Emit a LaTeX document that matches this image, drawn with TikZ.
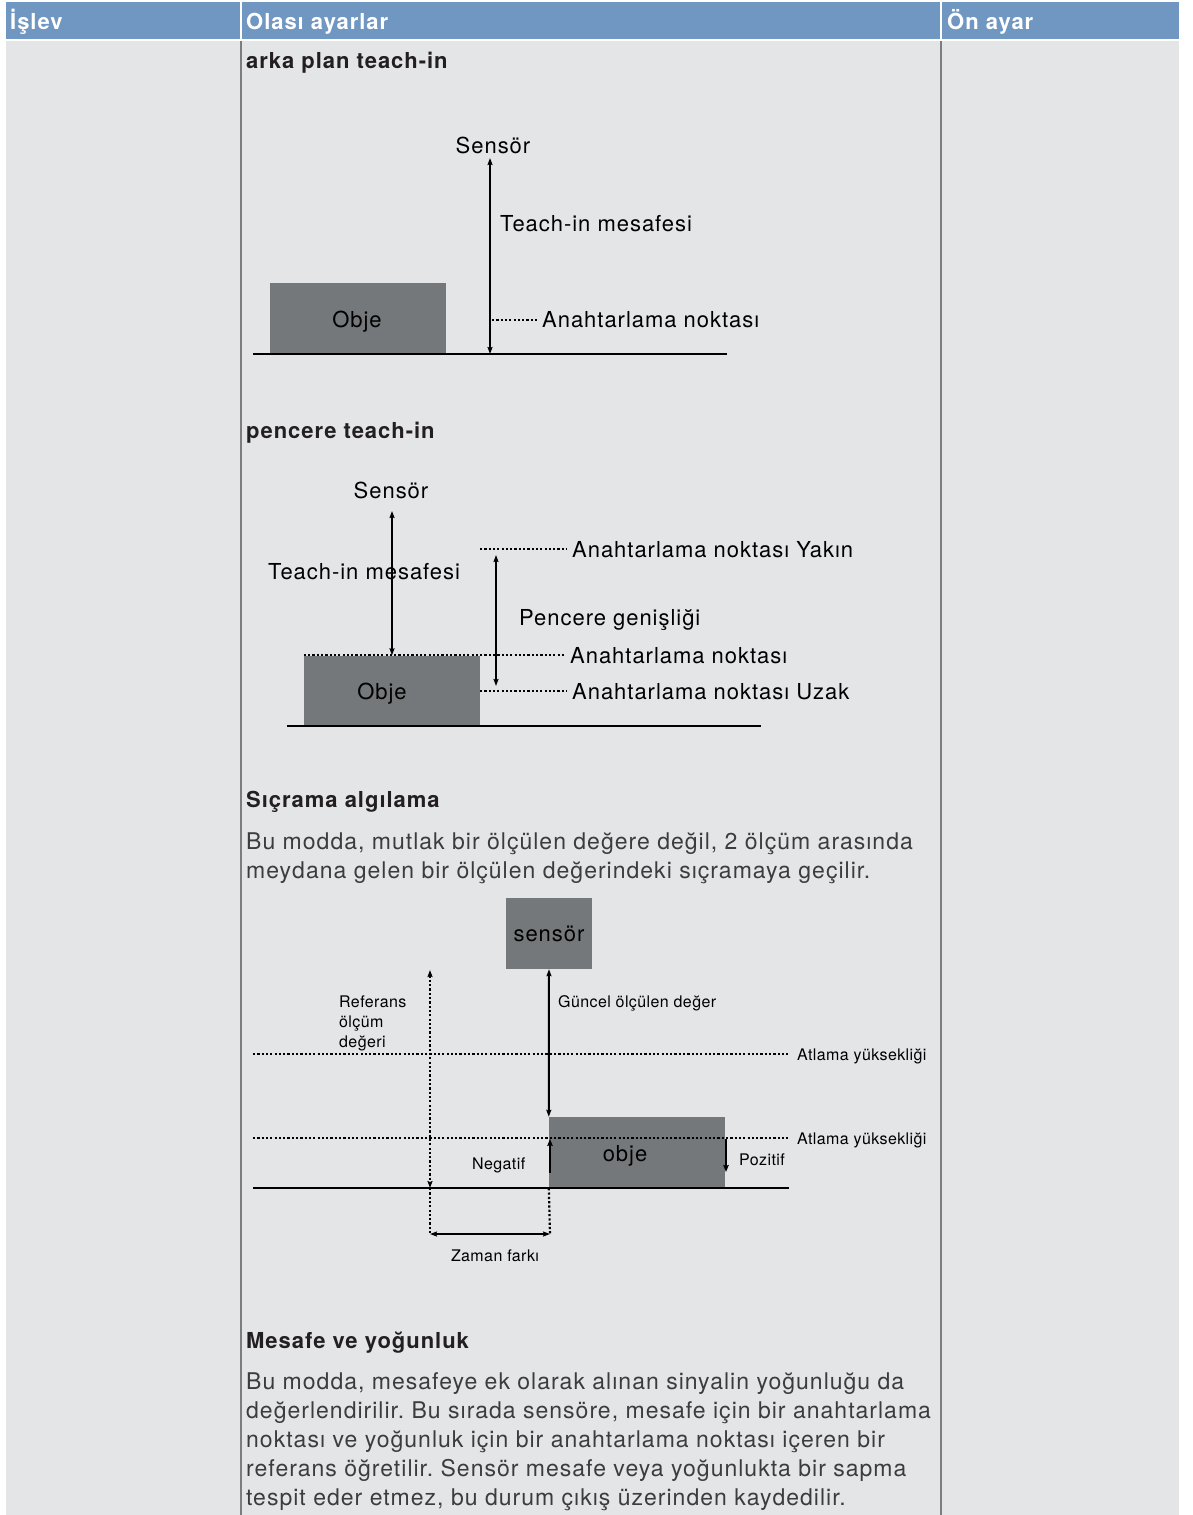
\documentclass[tikz,border=0pt]{standalone}
\usepackage{fontspec}
\setmainfont{TeX Gyre Heros}[LetterSpace=4.4]
\newfontfamily\smallface{TeX Gyre Heros}[LetterSpace=2.5]
\usetikzlibrary{arrows.meta}
\frenchspacing
\definecolor{hdrblue}{RGB}{112,150,194}
\definecolor{bodygray}{RGB}{228,229,231}
\definecolor{objgray}{RGB}{117,120,123}
\definecolor{rulegray}{RGB}{125,125,128}
\definecolor{inkdark}{RGB}{35,31,32}
\definecolor{inkbody}{RGB}{60,60,62}
\tikzset{
  hdrtext/.style={anchor=base west, inner sep=0pt, text=white, font=\fontsize{22}{26}\selectfont\bfseries},
  sectitle/.style={anchor=base west, inner sep=0pt, text=inkdark, font=\fontsize{22}{26}\selectfont\bfseries},
  bodytext/.style={anchor=base west, inner sep=0pt, align=left, text=inkbody, font=\fontsize{23}{29}\selectfont},
  lbl/.style={anchor=base west, inner sep=0pt, font=\fontsize{22}{26}\selectfont},
  smlbl/.style={anchor=base west, inner sep=0pt, align=left, font=\smallface\fontsize{16}{20}\selectfont},
  objbox/.style={fill=objgray, inner sep=0pt, minimum width=176pt, minimum height=71pt},
  ground/.style={line width=2.2pt},
  dimarrow/.style={line width=2pt, {Stealth[length=7pt,width=5pt,inset=1pt]}-{Stealth[length=7pt,width=5pt,inset=1pt]}},
  jumparrow/.style={line width=2.4pt, -{Stealth[length=7pt,width=5.5pt,inset=1pt]}},
  dotline/.style={line width=2.2pt, dash pattern=on 2.2pt off 2.1pt}
}
\begin{document}
\begin{tikzpicture}[x=1pt,y=-1pt]
\useasboundingbox (0,0) rectangle (1192,1515);
% table
\fill[white] (0,0) rectangle (1192,1515);
\fill[hdrblue] (6,2) rectangle (1179,39);
\fill[bodygray] (6,40.5) rectangle (1179,1515);
\draw[white,line width=2pt] (241,2)--(241,39) (941,2)--(941,39);
\draw[rulegray,line width=1.5pt] (241,40.5)--(241,1515) (941,40.5)--(941,1515);
\node[hdrtext] (hIslev) at (10,29) {İşlev};
\node[hdrtext] (hAyar) at (246,29) {Olası ayarlar};
\node[hdrtext] (hOn) at (947,29) {Ön ayar};

% arka plan teach-in
\node[sectitle] (t1) at (246,68) {arka plan teach-in};
\node[objbox] (obj1) at (358,318.5) {};
\node[lbl,anchor=base] (obj1txt) at (357,327) {Obje};
\coordinate (g1L) at (253,354);
\coordinate (g1R) at (727,354);
\draw[ground] (g1L) -- (g1R);
\node[lbl,anchor=base] (sens1) at (493,153) {Sensör};
\coordinate (s1top) at (490,158);
\coordinate (s1bot) at (490,354);
\draw[dimarrow] (s1top) -- (s1bot);
\node[lbl] (dist1) at (500,231) {Teach-in mesafesi};
\node[lbl] (sp1) at (542,327) {Anahtarlama noktası};
\coordinate (sp1L) at (492,320);
\draw[dotline,shorten >=4pt] (sp1L) -- (sp1L -| sp1.west);

% pencere teach-in
\node[sectitle] (t2) at (246,438) {pencere teach-in};
\node[objbox] (obj2) at (392,691) {};
\node[lbl,anchor=base] (obj2txt) at (382,699) {Obje};
\coordinate (g2L) at (287,726);
\coordinate (g2R) at (761,726);
\draw[ground] (g2L) -- (g2R);
\node[lbl,anchor=base] (sens2) at (391,498) {Sensör};
\node[lbl] (dist2) at (268,579) {Teach-in mesafesi};
\coordinate (s2top) at (392,511);
\draw[dimarrow] (s2top) -- (obj2.north);
\node[lbl] (spNear) at (572,557) {Anahtarlama noktası Yakın};
\node[lbl] (spMid) at (570,663) {Anahtarlama noktası};
\node[lbl] (spFar) at (572,699) {Anahtarlama noktası Uzak};
\node[lbl] (win) at (519,625) {Pencere genişliği};
\coordinate (nearL) at (480,549);
\coordinate (farL) at (480,691);
\draw[dotline,shorten >=5pt] (obj2.north west) -- (obj2.north west -| spMid.west);
\draw[dotline,shorten >=5pt] (nearL) -- (nearL -| spNear.west);
\draw[dotline,shorten >=5pt] (farL) -- (farL -| spFar.west);
\coordinate (winT) at (496,555);
\coordinate (winB) at (496,686);
\draw[dimarrow] (winT) -- (winB);

% Sicrama algilama
\node[sectitle] (t3) at (246,807) {Sıçrama algılama};
\node[bodytext] (p3) at (246,878) {Bu modda, mutlak bir ölçülen değere değil, 2 ölçüm arasında\\meydana gelen bir ölçülen değerindeki sıçramaya geçilir.};
\node[objbox,minimum width=86pt,font=\fontsize{22}{26}\selectfont] (sensC) at (549,933.5) {sensör};
\node[objbox] (objC) at (637,1152.5) {};
\node[lbl,anchor=base] (objCtxt) at (625,1161) {obje};
\coordinate (g3L) at (253,1188);
\coordinate (g3R) at (789,1188);
\draw[ground] (g3L) -- (g3R);
\node[smlbl] (jump1) at (797,1060) {Atlama yüksekliği};
\node[smlbl] (jump2) at (797,1144) {Atlama yüksekliği};
\coordinate (j1L) at (253,1054);
\coordinate (j2L) at (253,1138);
\draw[dotline,shorten >=7pt] (j1L) -- (j1L -| jump1.west);
\draw[dotline,shorten >=7pt] (j2L) -- (j2L -| jump2.west);
\draw[dimarrow] (sensC.south) -- (objC.north west);
\node[smlbl] (curTxt) at (558,1007) {Güncel ölçülen değer};
\node[smlbl] (refTxt) at (339,1047) {Referans\\ölçüm\\değeri};
\coordinate (refTop) at (430,970);
\coordinate (refBot) at (430,1188);
\coordinate (dtL) at (430,1234);
\coordinate (dtR) at (550,1234);
\draw[dotline,{Stealth[length=7pt,width=5pt,inset=1pt]}-{Stealth[length=7pt,width=5pt,inset=1pt]}] (refTop) -- (refBot);
\draw[dotline] (refBot) -- (dtL);
\draw[dotline] (objC.south west) -- (dtR);
\draw[dimarrow] (dtL) -- (dtR);
\node[smlbl,anchor=base] (dtTxt) at (495,1261) {Zaman farkı};
\node[smlbl] (negTxt) at (472,1169) {Negatif};
\node[smlbl] (posTxt) at (739,1165) {Pozitif};
\coordinate (negB) at (550,1173);
\coordinate (negT) at (550,1139);
\coordinate (posT) at (726,1139);
\coordinate (posB) at (726,1172);
\draw[jumparrow] (negB) -- (negT);
\draw[jumparrow] (posT) -- (posB);

% Mesafe ve yogunluk
\node[sectitle] (t4) at (246,1348) {Mesafe ve yoğunluk};
\node[bodytext] (p4) at (246,1505) {Bu modda, mesafeye ek olarak alınan sinyalin yoğunluğu da\\değerlendirilir. Bu sırada sensöre, mesafe için bir anahtarlama\\noktası ve yoğunluk için bir anahtarlama noktası içeren bir\\referans öğretilir. Sensör mesafe veya yoğunlukta bir sapma\\tespit eder etmez, bu durum çıkış üzerinden kaydedilir.};
\end{tikzpicture}
\end{document}
